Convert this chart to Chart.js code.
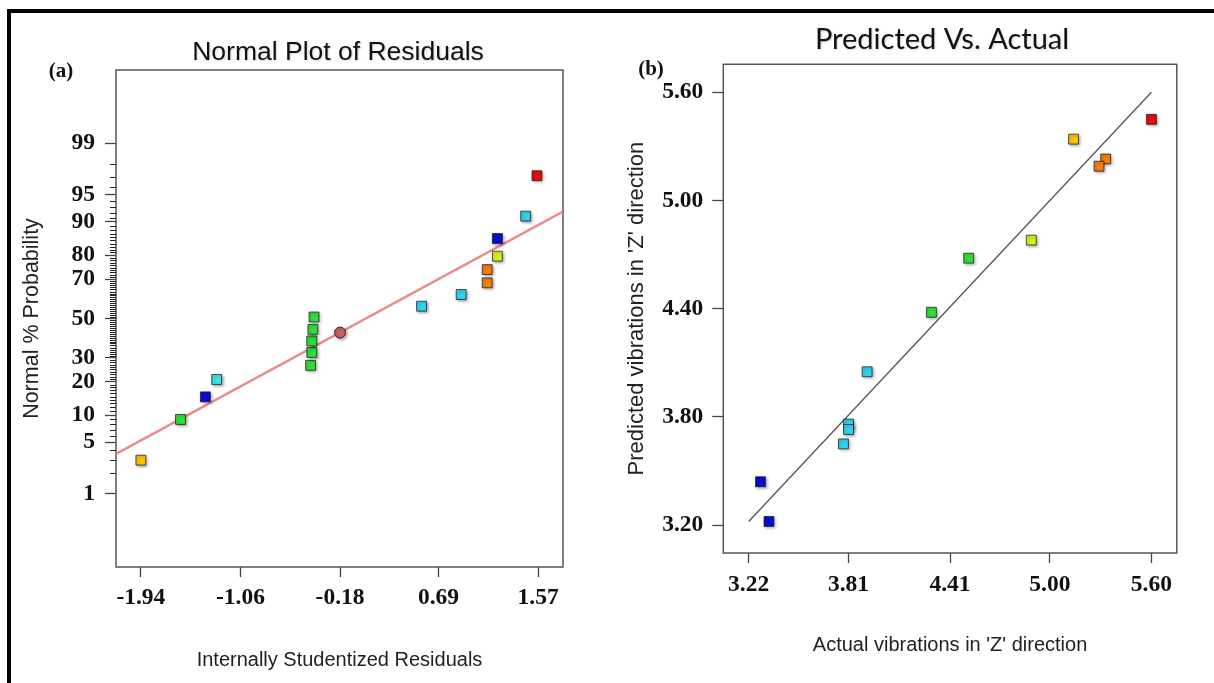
<!DOCTYPE html>
<html>
<head>
<meta charset="utf-8">
<title>Residuals and predicted vs actual</title>
<script src="https://cdn.jsdelivr.net/npm/chart.js@4.4.1/dist/chart.umd.min.js"></script>
<style>
  html, body { margin: 0; padding: 0; background: #fff; }
  body { position: relative; width: 1214px; height: 683px; overflow: hidden; }
  .frame { position: absolute; left: 7px; top: 9px; width: 1300px; height: 800px;
           border-left: 4px solid #000; border-top: 4px solid #000; }
  canvas { position: absolute; top: 0; }
  #normalPlot { left: 0; }
  #predActual { left: 607px; }
</style>
</head>
<body>
<div class="frame"></div>
<canvas id="normalPlot" width="607" height="683"></canvas>
<canvas id="predActual" width="607" height="683"></canvas>
<script>
// ---- (a) normal probability plot of residuals ----
const residualX = [-1.94, -1.59, -1.37, -1.27, -0.44, -0.43, -0.43, -0.42, -0.41, 0.54, 0.89, 1.12, 1.12, 1.21, 1.21, 1.46, 1.56];
const residualP = [3.0, 9.0, 14.9, 20.9, 26.7, 32.6, 38.3, 44.3, 50.8, 56.5, 62.5, 68.2, 74.2, 79.6, 85.6, 91.3, 97.1];
const residualColor = ["gold", "green", "blue", "teal", "green", "green", "green", "green", "green",
                       "cyan", "cyan", "orange", "orange", "lime", "blue", "cyan", "red"];
const centerX = [-0.18];
const centerP = [42.6];
const normalFitX = [-2.16, 1.79];
const normalFitP = [3.6, 92.2];
const probTicks = [1, 5, 10, 20, 30, 50, 70, 80, 90, 95, 99];
const residualTicks = [-1.94, -1.06, -0.18, 0.69, 1.57];

// ---- (b) predicted vs actual ----
const actualZ = [5.60, 5.14, 5.33, 5.29, 4.89, 4.52, 4.30, 3.92, 3.81, 3.81, 3.78, 3.29, 3.34];
const predictedZ = [5.45, 5.34, 5.23, 5.19, 4.78, 4.68, 4.38, 4.05, 3.76, 3.73, 3.65, 3.44, 3.22];
const predColor = ["red", "gold", "orange", "orange", "lime", "green", "green", "cyan", "cyan", "cyan", "cyan", "blue", "blue"];
const diagonal = [3.22, 5.60];
const actualTicks = [3.22, 3.81, 4.41, 5.00, 5.60];
const predictedTicks = [3.20, 3.80, 4.40, 5.00, 5.60];

const palette = {
  red: "#ea0c0c",
  gold: "#fbc30a",
  orange: "#f27f12",
  lime: "#d3f01e",
  green: "#2de03a",
  cyan: "#30d4ef",
  teal: "#3ce6e6",
  blue: "#0b0bd6"
};

const tickFont = { family: '"Liberation Serif", "Times New Roman", serif', size: 23.5, weight: "bold" };
const sansFamily = '"Liberation Sans", Arial, sans-serif';

// inverse standard normal CDF (Acklam), used for the probability axis
function probit(p) {
  const a = [-39.69683028665376, 220.9460984245205, -275.9285104469687, 138.3577518672690, -30.66479806614716, 2.506628277459239];
  const b = [-54.47609879822406, 161.5858368580409, -155.6989798598866, 66.80131188771972, -13.28068155288572];
  const c = [-0.007784894002430293, -0.3223964580411365, -2.400758277161838, -2.549732539343734, 4.374664141464968, 2.938163982698783];
  const d = [0.007784695709041462, 0.3224671290700398, 2.445134137142996, 3.754408661907416];
  const pl = 0.02425;
  if (p < pl) {
    const q = Math.sqrt(-2 * Math.log(p));
    return (((((c[0]*q + c[1])*q + c[2])*q + c[3])*q + c[4])*q + c[5]) / ((((d[0]*q + d[1])*q + d[2])*q + d[3])*q + 1);
  }
  if (p > 1 - pl) {
    const q = Math.sqrt(-2 * Math.log(1 - p));
    return -(((((c[0]*q + c[1])*q + c[2])*q + c[3])*q + c[4])*q + c[5]) / ((((d[0]*q + d[1])*q + d[2])*q + d[3])*q + 1);
  }
  const q = p - 0.5, r = q * q;
  return (((((a[0]*r + a[1])*r + a[2])*r + a[3])*r + a[4])*r + a[5])*q / (((((b[0]*r + b[1])*r + b[2])*r + b[3])*r + b[4])*r + 1);
}

const pctToZ = pct => probit(pct / 100);

/**
 * Frame box, minor probability ticks, titles and panel letters.
 */
const panelDecor = {
  id: "panelDecor",
  beforeDatasetsDraw(chart, args, opts) {
    const { ctx, chartArea: a } = chart;
    ctx.save();
    ctx.strokeStyle = "#555";
    ctx.lineWidth = 1.5;
    ctx.strokeRect(a.left, a.top, a.right - a.left, a.bottom - a.top);

    if (opts.minorTicks) {
      const y = chart.scales.y;
      ctx.strokeStyle = "#222";
      ctx.lineWidth = 1;
      for (let p = 1; p <= 99; p++) {
        if (probTicks.includes(p)) continue;
        const py = Math.round(y.getPixelForValue(pctToZ(p))) + 0.5;
        ctx.beginPath();
        ctx.moveTo(a.left - 6, py);
        ctx.lineTo(a.left, py);
        ctx.stroke();
      }
    }
    ctx.restore();
  },
  beforeDatasetDraw(chart, args) {
    if (chart.data.datasets[args.index].shadow) {
      const ctx = chart.ctx;
      ctx.save();
      ctx.shadowColor = "rgba(0,0,0,0.35)";
      ctx.shadowBlur = 3;
      ctx.shadowOffsetX = 1.5;
      ctx.shadowOffsetY = 1.5;
    }
  },
  afterDatasetDraw(chart, args) {
    if (chart.data.datasets[args.index].shadow) chart.ctx.restore();
  },
  afterDraw(chart, args, opts) {
    const ctx = chart.ctx;
    ctx.save();
    ctx.textAlign = "center";
    ctx.textBaseline = "middle";
    ctx.shadowColor = "rgba(0,0,0,0.18)";
    ctx.shadowBlur = 2;
    ctx.shadowOffsetX = 1;
    ctx.shadowOffsetY = 1;
    ctx.fillStyle = "#111";
    ctx.font = opts.titleFont;
    ctx.fillText(opts.title, opts.titleX, opts.titleY);
    ctx.shadowColor = "transparent";
    ctx.font = 'bold 21px "Liberation Serif", "Times New Roman", serif';
    ctx.fillText(opts.label, opts.labelX, opts.labelY);
    ctx.restore();
  }
};

function axisTicks(values, fmt, pad) {
  return {
    afterBuildTicks: s => { s.ticks = values.map(v => ({ value: v })); },
    ticks: { font: tickFont, color: "#111", padding: pad, callback: fmt }
  };
}

function gridTicks(len) {
  return { display: true, drawOnChartArea: false, drawTicks: true, tickLength: len, tickColor: "#444", tickWidth: 1.3 };
}

function pointsDataset(xs, ys, colors) {
  return {
    type: "scatter",
    data: xs.map((x, i) => ({ x: x, y: ys[i] })),
    pointStyle: "rect",
    pointRadius: 7,
    pointHoverRadius: 7,
    backgroundColor: colors.map(c => palette[c]),
    borderColor: "rgba(30,30,30,0.75)",
    borderWidth: 1,
    shadow: true,
    order: 0
  };
}

// (a) Normal Plot of Residuals
new Chart(document.getElementById("normalPlot"), {
  type: "scatter",
  data: {
    datasets: [
      pointsDataset(residualX, residualP.map(pctToZ), residualColor),
      {
        type: "scatter",
        data: centerX.map((x, i) => ({ x: x, y: pctToZ(centerP[i]) })),
        pointStyle: "circle",
        pointRadius: 5.5,
        pointHoverRadius: 5.5,
        backgroundColor: "#c46464",
        borderColor: "#4a2020",
        borderWidth: 1,
        shadow: true,
        order: 0
      },
      {
        type: "line",
        data: normalFitX.map((x, i) => ({ x: x, y: pctToZ(normalFitP[i]) })),
        borderColor: "rgba(232,128,128,0.9)",
        borderWidth: 2.5,
        pointRadius: 0,
        fill: false,
        order: 1
      }
    ]
  },
  options: {
    responsive: false,
    animation: false,
    events: [],
    layout: { padding: { top: 70, left: 10, right: 44, bottom: 0 } },
    plugins: {
      legend: { display: false },
      tooltip: { enabled: false },
      panelDecor: {
        minorTicks: true,
        title: "Normal Plot of Residuals",
        titleFont: '26.5px ' + sansFamily,
        titleX: 338, titleY: 53,
        label: "(a)", labelX: 61, labelY: 72
      }
    },
    scales: {
      x: Object.assign({
        type: "linear", min: -2.16, max: 1.79,
        afterFit: s => { s.height = 116; },
        grid: gridTicks(10),
        border: { display: false },
        title: { display: true, text: "Internally Studentized Residuals", color: "#222",
                 font: { family: sansFamily, size: 20 }, padding: { top: 0, bottom: 11 } }
      }, axisTicks(residualTicks, v => v.toFixed(2), 7)),
      y: Object.assign({
        type: "linear", min: -3.3, max: 3.3,
        afterFit: s => { s.width = 106; },
        grid: gridTicks(11),
        border: { display: false },
        title: { display: true, text: "Normal % Probability", color: "#222",
                 font: { family: sansFamily, size: 21.5 }, padding: { top: 9.5, bottom: 0 } }
      }, axisTicks(probTicks.map(pctToZ), (v, i) => String(probTicks[i]), 10))
    }
  },
  plugins: [panelDecor]
});

// (b) Predicted Vs. Actual
new Chart(document.getElementById("predActual"), {
  type: "scatter",
  data: {
    datasets: [
      pointsDataset(actualZ, predictedZ, predColor),
      {
        type: "line",
        data: diagonal.map(v => ({ x: v, y: v })),
        borderColor: "#555",
        borderWidth: 1.3,
        pointRadius: 0,
        fill: false,
        order: 1
      }
    ]
  },
  options: {
    responsive: false,
    animation: false,
    events: [],
    layout: { padding: { top: 64.3, left: 10, right: 37.2, bottom: 0 } },
    plugins: {
      legend: { display: false },
      tooltip: { enabled: false },
      panelDecor: {
        minorTicks: false,
        title: "Predicted Vs. Actual",
        titleFont: '29px Lato, "Open Sans", sans-serif',
        titleX: 335, titleY: 40,
        label: "(b)", labelX: 44, labelY: 70
      }
    },
    scales: {
      x: Object.assign({
        type: "linear", min: 3.07, max: 5.75,
        afterFit: s => { s.height = 130; },
        grid: gridTicks(10),
        border: { display: false },
        title: { display: true, text: "Actual vibrations in 'Z' direction", color: "#222",
                 font: { family: sansFamily, size: 20 }, padding: { top: 0, bottom: 26 } }
      }, axisTicks(actualTicks, v => v.toFixed(2), 8)),
      y: Object.assign({
        type: "linear", min: 3.045, max: 5.755,
        afterFit: s => { s.width = 106.3; },
        grid: gridTicks(11),
        border: { display: false },
        title: { display: true, text: "Predicted vibrations in 'Z' direction", color: "#222",
                 font: { family: sansFamily, size: 22 }, padding: { top: 6.5, bottom: 0 } }
      }, axisTicks(predictedTicks, v => v.toFixed(2), 9))
    }
  },
  plugins: [panelDecor]
});
</script>
</body>
</html>
